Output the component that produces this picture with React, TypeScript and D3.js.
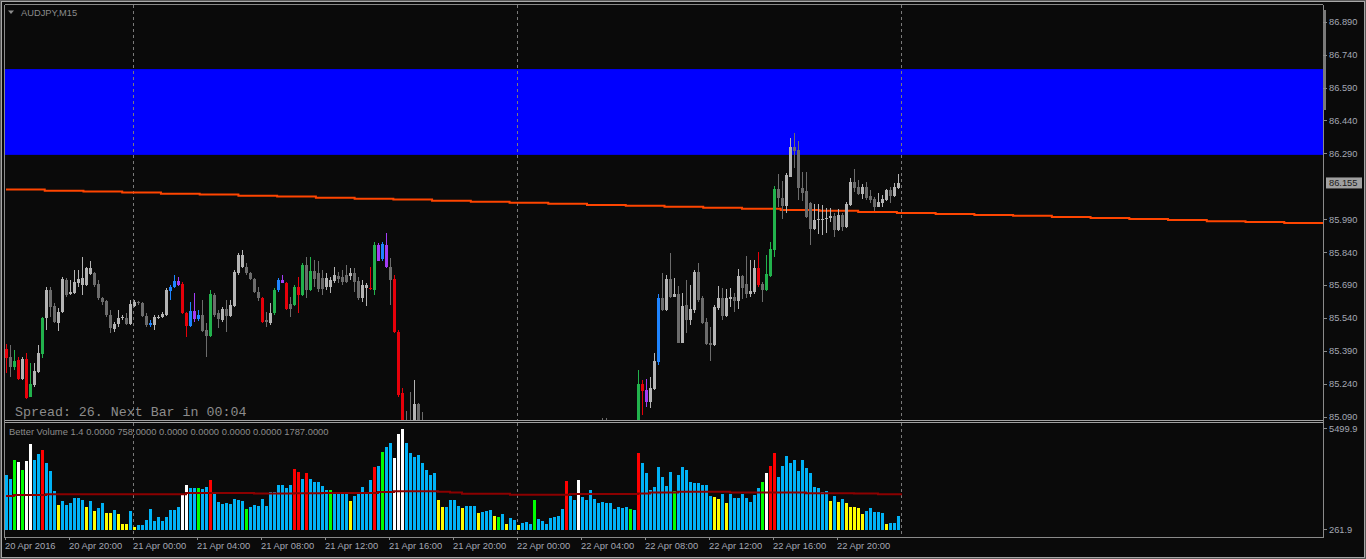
import React from 'react';
import * as d3 from 'd3';

// AUDJPY M15 candles, [open, high, low, close]; null = bar below the visible price range
const candles: ([number, number, number, number] | null)[] = [
  [85.398, 85.421, 85.288, 85.359], [85.362, 85.417, 85.272, 85.315], [85.316, 85.394, 85.303, 85.344], [85.348, 85.363, 85.257, 85.262],
  [85.262, 85.363, 85.257, 85.351], [85.353, 85.379, 85.172, 85.177], [85.181, 85.333, 85.178, 85.239], [85.234, 85.333, 85.227, 85.298],
  [85.295, 85.417, 85.291, 85.379], [85.377, 85.546, 85.356, 85.540], [85.538, 85.683, 85.485, 85.667], [85.667, 85.683, 85.546, 85.591],
  [85.595, 85.607, 85.515, 85.519], [85.515, 85.584, 85.482, 85.569], [85.569, 85.728, 85.561, 85.718], [85.713, 85.721, 85.637, 85.645],
  [85.648, 85.713, 85.643, 85.660], [85.652, 85.759, 85.649, 85.702], [85.701, 85.759, 85.683, 85.716], [85.690, 85.819, 85.645, 85.721],
  [85.690, 85.774, 85.686, 85.766], [85.739, 85.797, 85.736, 85.766], [85.746, 85.751, 85.683, 85.690], [85.693, 85.713, 85.622, 85.629],
  [85.629, 85.637, 85.599, 85.614], [85.617, 85.622, 85.546, 85.553], [85.553, 85.576, 85.470, 85.493], [85.488, 85.523, 85.477, 85.512],
  [85.511, 85.576, 85.500, 85.538], [85.538, 85.553, 85.531, 85.543], [85.538, 85.561, 85.508, 85.512], [85.512, 85.622, 85.508, 85.604],
  [85.595, 85.622, 85.588, 85.614], [85.611, 85.619, 85.599, 85.607], [85.607, 85.614, 85.543, 85.550], [85.550, 85.561, 85.500, 85.508],
  [85.508, 85.531, 85.497, 85.515], [85.508, 85.553, 85.485, 85.543], [85.543, 85.553, 85.534, 85.545], [85.543, 85.569, 85.538, 85.558],
  [85.553, 85.675, 85.549, 85.667], [85.664, 85.690, 85.622, 85.680], [85.680, 85.736, 85.675, 85.708], [85.708, 85.728, 85.686, 85.690],
  [85.695, 85.705, 85.558, 85.561], [85.561, 85.569, 85.452, 85.505], [85.505, 85.614, 85.500, 85.572], [85.572, 85.652, 85.523, 85.534],
  [85.534, 85.576, 85.528, 85.553], [85.553, 85.622, 85.477, 85.482], [85.485, 85.515, 85.360, 85.459], [85.459, 85.667, 85.455, 85.649],
  [85.645, 85.652, 85.546, 85.553], [85.561, 85.576, 85.493, 85.534], [85.531, 85.591, 85.523, 85.579], [85.579, 85.622, 85.477, 85.549],
  [85.549, 85.622, 85.546, 85.599], [85.595, 85.756, 85.591, 85.748], [85.743, 85.835, 85.736, 85.827], [85.774, 85.850, 85.766, 85.827],
  [85.774, 85.789, 85.736, 85.746], [85.746, 85.751, 85.713, 85.716], [85.716, 85.721, 85.652, 85.660], [85.660, 85.683, 85.619, 85.629],
  [85.629, 85.637, 85.515, 85.519], [85.531, 85.569, 85.500, 85.519], [85.515, 85.607, 85.508, 85.564], [85.561, 85.675, 85.553, 85.667],
  [85.667, 85.721, 85.660, 85.713], [85.713, 85.736, 85.698, 85.701], [85.698, 85.705, 85.576, 85.579], [85.604, 85.637, 85.546, 85.582],
  [85.599, 85.690, 85.595, 85.680], [85.680, 85.728, 85.561, 85.643], [85.645, 85.789, 85.640, 85.781], [85.781, 85.819, 85.629, 85.667],
  [85.667, 85.819, 85.664, 85.753], [85.753, 85.804, 85.683, 85.716], [85.746, 85.797, 85.660, 85.671], [85.721, 85.759, 85.645, 85.671],
  [85.683, 85.743, 85.667, 85.721], [85.680, 85.728, 85.652, 85.713], [85.710, 85.774, 85.698, 85.736], [85.731, 85.751, 85.698, 85.716],
  [85.728, 85.759, 85.690, 85.705], [85.736, 85.781, 85.701, 85.705], [85.731, 85.766, 85.713, 85.743], [85.743, 85.766, 85.660, 85.705],
  [85.710, 85.728, 85.622, 85.629], [85.629, 85.713, 85.614, 85.690], [85.675, 85.698, 85.595, 85.690], [85.675, 85.774, 85.667, 85.671],
  [85.667, 85.888, 85.645, 85.873], [85.873, 85.880, 85.797, 85.801], [85.807, 85.888, 85.801, 85.877], [85.873, 85.926, 85.766, 85.771],
  [85.771, 85.812, 85.599, 85.713], [85.716, 85.736, 85.470, 85.477], [85.477, 85.485, 85.181, 85.189], [85.199, 85.219, 84.950, 84.980],
  [85.060, 85.117, 84.980, 85.020], [85.050, 85.202, 84.990, 85.070], [85.040, 85.257, 85.020, 85.147], [85.147, 85.150, 85.030, 85.050],
  [85.050, 85.113, 85.000, 85.060],
  null, null, null, null, null, null, null, null, null, null, null,
  null, null, null, null, null, null, null, null, null, null, null,
  null, null, null, null, null, null, null, null, null, null, null,
  null, null, null, null, null, null, null, null, null, null, null,
  [85.040, 85.085, 85.000, 85.060], [85.060, 85.085, 85.010, 85.030],
  null, null, null, null, null, null, null,
  [85.050, 85.302, 85.030, 85.238], [85.238, 85.257, 85.097, 85.208], [85.211, 85.260, 85.132, 85.158], [85.158, 85.272, 85.128, 85.219],
  [85.214, 85.378, 85.211, 85.343], [85.340, 85.649, 85.325, 85.629], [85.629, 85.743, 85.573, 85.576], [85.576, 85.735, 85.571, 85.717],
  [85.717, 85.834, 85.632, 85.637], [85.637, 85.720, 85.634, 85.649], [85.649, 85.685, 85.424, 85.427], [85.427, 85.652, 85.424, 85.594],
  [85.599, 85.713, 85.470, 85.530], [85.530, 85.690, 85.508, 85.580], [85.576, 85.758, 85.564, 85.751], [85.751, 85.789, 85.614, 85.621],
  [85.629, 85.640, 85.512, 85.515], [85.523, 85.538, 85.416, 85.421], [85.427, 85.500, 85.345, 85.416], [85.416, 85.599, 85.413, 85.588],
  [85.583, 85.685, 85.576, 85.629], [85.629, 85.675, 85.530, 85.549], [85.549, 85.670, 85.546, 85.629], [85.626, 85.675, 85.591, 85.634],
  [85.634, 85.655, 85.568, 85.617], [85.617, 85.761, 85.579, 85.731], [85.731, 85.735, 85.625, 85.675], [85.693, 85.822, 85.629, 85.649],
  [85.649, 85.804, 85.637, 85.663], [85.660, 85.804, 85.649, 85.766], [85.766, 85.840, 85.682, 85.690], [85.694, 85.705, 85.614, 85.667],
  [85.667, 85.827, 85.664, 85.740], [85.733, 85.887, 85.728, 85.854], [85.849, 86.143, 85.816, 86.127], [86.127, 86.196, 86.044, 86.085],
  [86.085, 86.164, 85.992, 86.050], [86.050, 86.199, 86.017, 86.191], [86.184, 86.358, 86.181, 86.317], [86.317, 86.381, 86.222, 86.302],
  [86.305, 86.348, 86.077, 86.130], [86.130, 86.206, 86.074, 86.111], [86.118, 86.206, 85.997, 86.001], [86.062, 86.070, 85.872, 85.945],
  [85.945, 86.059, 85.941, 85.986], [85.986, 86.059, 85.922, 85.991], [85.991, 86.054, 85.918, 85.990], [85.989, 86.039, 85.928, 85.997],
  [85.997, 86.039, 85.979, 86.004], [86.006, 86.017, 85.910, 85.941], [85.941, 86.035, 85.938, 86.009], [86.009, 86.017, 85.938, 85.956],
  [85.953, 86.070, 85.950, 86.059], [86.054, 86.176, 86.051, 86.161], [86.161, 86.217, 86.115, 86.130], [86.138, 86.168, 86.102, 86.105],
  [86.105, 86.150, 86.080, 86.138], [86.138, 86.161, 86.077, 86.088], [86.096, 86.123, 86.065, 86.077], [86.082, 86.089, 86.029, 86.044],
  [86.047, 86.111, 86.044, 86.070], [86.062, 86.100, 86.047, 86.080], [86.077, 86.127, 86.074, 86.123], [86.123, 86.138, 86.062, 86.096],
  [86.096, 86.153, 86.089, 86.138], [86.130, 86.196, 86.127, 86.155],
];

// candle colour per bar: u up grey, d down grey, r red, g green, b blue, p purple
const candleTone =
  'rdgrurguug' + 'udduuduuuu' + 'uuddddduuu' + 'duudddbuuu' + 'ubbprrbpbd' +
  'dgdduduuuu' + 'ddddrdugbp' + 'rdgrgdgddd' + 'uuuddduddu' + 'urgpbpdrrr' +
  'ddudd-----' + '----------' + '----------' + '----------' + '---------d' +
  'd-------gr' + 'puubdududu' + 'duudddduud' + 'uududduurd' + 'gggdduuddd' +
  'dduuuuudud' + 'uudduddduu' + 'uduu';

// Better Volume histogram
const volumes = [
  3060, 2855, 3840, 3754, 3322, 3806, 4670, 3840, 4151, 4359,
  3667, 3270, 2232, 1506, 1714, 1506, 1627, 1852, 1852, 1765,
  1385, 1731, 1212, 1333, 1593, 1074, 1074, 1247, 1022, 521,
  521, 1212, 382, 469, 469, 728, 1281, 676, 866, 693,
  901, 1247, 1247, 1385, 2059, 2543, 2371, 2405, 2371, 2336,
  2457, 2803, 2111, 1679, 1558, 1627, 1541, 1817, 1765, 1714,
  1299, 1385, 1506, 1454, 1817, 1454, 2198, 2198, 2543, 2543,
  2371, 2543, 3373, 3235, 2837, 3149, 2837, 2716, 2716, 2491,
  2284, 2284, 2077, 2198, 2198, 2077, 1731, 1973, 2077, 2457,
  2077, 2803, 3494, 3546, 4272, 4532, 4705, 3927, 5189, 5448,
  4739, 4186, 3978, 4100, 3702, 3322, 3062, 3149, 1765, 1385,
  1385, 1765, 1765, 1454, 1368, 1454, 1454, 1454, 1074, 1160,
  1212, 1247, 936, 884, 1022, 521, 815, 728, 469, 555,
  607, 503, 1765, 780, 693, 521, 815, 901, 936, 1281,
  2751, 1973, 1765, 2803, 1904, 1765, 2284, 1817, 1627, 1679,
  1627, 1627, 1299, 1385, 1368, 1385, 1299, 1247, 4220, 3667,
  3183, 2284, 2457, 3460, 2976, 2509, 3235, 2232, 3062, 3494,
  3322, 2716, 2665, 2630, 2543, 2543, 1973, 1904, 1817, 2077,
  1627, 2077, 1886, 1886, 2077, 1852, 1679, 2025, 2371, 2716,
  3183, 3529, 4220, 2941, 3529, 4048, 3667, 3840, 3270, 3840,
  3442, 3149, 2457, 2371, 2198, 2250, 1731, 1973, 1679, 1817,
  1593, 1420, 1385, 1333, 1039, 1212, 1333, 1126, 1126, 1074,
  521, 590, 590, 936,
];

// volume colour: b blue, y yellow, g green, w white, r red
const volumeTone =
  'bbgwgwwbbr' + 'bbbybbbbbb' + 'ybybbyybyy' + 'ybybbbbbbb' + 'bbbbwwbbgb' +
  'brbbbbbbbb' + 'gbbbbbbbbb' + 'bbrrbrbbbb' + 'bgbbbbybbb' + 'bbrbgbbwww' +
  'bbbbbbbbyy' + 'bbbbybbbyb' + 'bbygbybbyb' + 'bbgbbbbbbb' + 'rbbwbbbbbb' +
  'bbbbbbgbrb' + 'bbbbbbbgbb' + 'bbbbbbbyyb' + 'ybbbbbbbbg' + 'wrrbbbbbbb' +
  'bbbbbbybyb' + 'yyyyybbbbb' + 'ybbb';

// volume average, [from bar, value]
const volumeAvg: [number, number][] = [
  [0, 1973], [2, 2025], [10, 2060], [45, 2130], [62, 2100], [72, 2110], [79, 2130],
  [93, 2180], [97, 2215], [108, 2190], [111, 2150], [114, 2090], [126, 2040], [141, 2080],
  [158, 2100], [161, 2150], [168, 2190], [181, 2150], [200, 2120], [212, 2100], [218, 2060], [224, 2060],
];

// orange moving average, one level per step across the whole chart
const maLevels = [
  86.125, 86.120, 86.116, 86.111, 86.106, 86.102, 86.097, 86.093, 86.088, 86.083,
  86.079, 86.074, 86.069, 86.065, 86.060, 86.055, 86.051, 86.046, 86.042, 86.037,
  86.032, 86.028, 86.023, 86.018, 86.014, 86.009, 86.005, 86.000, 85.995, 85.991,
  85.986, 85.981, 85.977, 85.972,
];

const zoneTop = 86.674;
const zoneBottom = 86.283;
const lastPrice = 86.155;

// 86.140 sits under the last-price box, so it is not labelled
const priceTicks = [86.89, 86.74, 86.59, 86.44, 86.29, 85.99, 85.84, 85.69, 85.54, 85.39, 85.24, 85.09];
const timeLabels = [
  '20 Apr 2016', '20 Apr 20:00', '21 Apr 00:00', '21 Apr 04:00', '21 Apr 08:00', '21 Apr 12:00', '21 Apr 16:00',
  '21 Apr 20:00', '22 Apr 00:00', '22 Apr 04:00', '22 Apr 08:00', '22 Apr 12:00', '22 Apr 16:00', '22 Apr 20:00',
];
const dayBreaks = [32, 128, 224];

const candleColor: Record<string, string> = {
  u: '#b4b4b4', d: '#6c6c6c', r: '#e6000a', g: '#22b24c', b: '#1e84ff', p: '#a23cf5', '-': '#6c6c6c',
};
const volColor: Record<string, string> = {
  b: '#00b2f6', y: '#ffff00', g: '#00ff00', w: '#ffffff', r: '#ff0000',
};

const FONT = '"Liberation Sans", Arial, sans-serif';
const AXIS_TEXT = '#a4a8b4';
const FRAME = '#8a8a8a';

export default function App() {
  const W = 1366;
  const H = 559;
  const plotRight = 1323;

  const x = d3.scaleLinear().domain([0, 224]).range([5, 901]);
  const y = d3.scaleLinear().domain([85.09, 86.89]).range([416.6, 21.7]);
  const yv = d3.scaleLinear().domain([261.9, 5499.9]).range([529, 428]);
  const xMa = d3.scaleLinear().domain([0, maLevels.length]).range([6, plotRight]);

  const maPts: [number, number][] = maLevels.map((v, k) => [xMa(k), y(v)]);
  maPts.push([xMa(maLevels.length), y(maLevels[maLevels.length - 1])]);
  const maPath = d3.line().curve(d3.curveStepAfter)(maPts) || '';

  const avgPts: [number, number][] = volumeAvg.map(([i, v]) => [x(i) + 1, yv(v)]);
  const avgPath = d3.line().curve(d3.curveStepAfter)(avgPts) || '';

  return (
    <div style={{ position: 'fixed', left: 0, top: 0, width: W, height: H, background: '#0a0a0a' }}>
      <svg width={W} height={H} style={{ display: 'block' }}>
        <defs>
          <clipPath id="mainClip"><rect x={5} y={5} width={plotRight - 5} height={415} /></clipPath>
          <clipPath id="volClip"><rect x={5} y={423} width={plotRight - 5} height={113} /></clipPath>
        </defs>
        <rect x={0} y={0} width={W} height={H} fill="#0a0a0a" />

        {/* window frame */}
        <rect x={0.5} y={0.5} width={W - 1} height={H - 1} fill="none" stroke="#5a5a5a" />
        <rect x={1.5} y={1.5} width={W - 3} height={H - 3} fill="none" stroke="#a8a8a8" />

        {/* main panel */}
        <g clipPath="url(#mainClip)">
          <rect x={5} y={y(zoneTop)} width={plotRight - 5} height={y(zoneBottom) - y(zoneTop)} fill="#0000ff" />
          {dayBreaks.map(i => (
            <line key={i} x1={x(i) + 0.5} x2={x(i) + 0.5} y1={5} y2={420} stroke="#7a7a7a" strokeDasharray="3,3" />
          ))}
          <path d={maPath} fill="none" stroke="#ff4500" strokeWidth={2} />
          {candles.map((c, i) => {
            if (!c) return null;
            const [o, h, l, cl] = c;
            const col = candleColor[candleTone[i]] || '#6c6c6c';
            const top = Math.round(y(Math.max(o, cl)));
            const bot = Math.round(y(Math.min(o, cl)));
            return (
              <g key={i} shapeRendering="crispEdges">
                <rect x={x(i) + 1} y={y(h)} width={1} height={Math.max(1, y(l) - y(h))} fill={col} />
                <rect x={x(i)} y={top} width={3} height={Math.max(1, bot - top)} fill={col} />
              </g>
            );
          })}
        </g>
        <text x={15} y={416} fontFamily='"Liberation Mono", "DejaVu Sans Mono", monospace' fontSize={13.3} fill="#8c8c8c">
          Spread: 26. Next Bar in 00:04
        </text>
        <path d="M8,10.5 L14,10.5 L11,14 Z" fill="#8c8c8c" />
        <text x={21} y={16} fontFamily={FONT} fontSize={9.3} fill="#8c8c8c">AUDJPY,M15</text>

        {/* volume panel */}
        <g clipPath="url(#volClip)">
          {dayBreaks.map(i => (
            <line key={i} x1={x(i) + 0.5} x2={x(i) + 0.5} y1={423} y2={537} stroke="#7a7a7a" strokeDasharray="3,3" />
          ))}
          {volumes.map((v, i) => (
            <rect key={i} x={x(i)} y={Math.round(yv(v))} width={3} height={530 - Math.round(yv(v))}
              fill={volColor[volumeTone[i]] || '#00b2f6'} shapeRendering="crispEdges" />
          ))}
          <path d={avgPath} fill="none" stroke="#8b0000" strokeWidth={2} />
        </g>
        <text x={9} y={435} fontFamily={FONT} fontSize={9.4} fill="#8c8c8c">
          Better Volume 1.4 0.0000 758.0000 0.0000 0.0000 0.0000 0.0000 1787.0000
        </text>

        {/* panel borders */}
        <g stroke={FRAME} shapeRendering="crispEdges">
          <line x1={4.5} x2={plotRight} y1={4.5} y2={4.5} />
          <line x1={4.5} x2={4.5} y1={4.5} y2={537.5} />
          <line x1={4.5} x2={plotRight} y1={420.5} y2={420.5} stroke="#a0a0a0" />
          <line x1={4.5} x2={plotRight} y1={422.5} y2={422.5} stroke="#a0a0a0" />
          <line x1={4.5} x2={plotRight} y1={537.5} y2={537.5} />
          <line x1={plotRight + 0.5} x2={plotRight + 0.5} y1={4.5} y2={537.5} />
        </g>
        <rect x={1323} y={10} width={3} height={100} fill="#7a7a7a" />

        {/* price axis */}
        {priceTicks.map(p => (
          <g key={p}>
            <line x1={plotRight} x2={plotRight + 4} y1={Math.round(y(p)) + 0.5} y2={Math.round(y(p)) + 0.5} stroke={FRAME} />
            <text x={1329} y={y(p) + 3.5} fontFamily={FONT} fontSize={9.3} fill={AXIS_TEXT}>{p.toFixed(3)}</text>
          </g>
        ))}
        <rect x={1326} y={y(lastPrice) - 5.5} width={36} height={11} fill="#a0a0a0" />
        <text x={1329} y={y(lastPrice) + 3.5} fontFamily={FONT} fontSize={9.3} fill="#1a1a1a">{lastPrice.toFixed(3)}</text>

        {/* volume axis */}
        <line x1={plotRight} x2={plotRight + 4} y1={428.5} y2={428.5} stroke={FRAME} />
        <text x={1329} y={432} fontFamily={FONT} fontSize={9.3} fill={AXIS_TEXT}>5499.9</text>
        <line x1={plotRight} x2={plotRight + 4} y1={529.5} y2={529.5} stroke={FRAME} />
        <text x={1329} y={533} fontFamily={FONT} fontSize={9.3} fill={AXIS_TEXT}>261.9</text>

        {/* time axis */}
        {timeLabels.map((t, k) => {
          const xi = x(k * 16);
          return (
            <g key={t}>
              <line x1={xi + 0.5} x2={xi + 0.5} y1={537} y2={540} stroke={FRAME} />
              <text x={xi} y={549} fontFamily={FONT} fontSize={9.4} fill={AXIS_TEXT}>{t}</text>
            </g>
          );
        })}
      </svg>
    </div>
  );
}
